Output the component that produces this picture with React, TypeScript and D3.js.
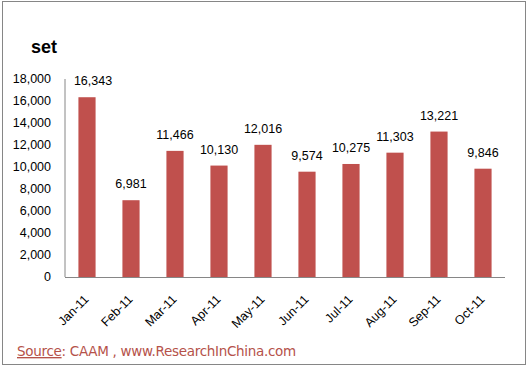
import React from 'react';
import * as d3 from 'd3';

const months = ['Jan-11', 'Feb-11', 'Mar-11', 'Apr-11', 'May-11', 'Jun-11', 'Jul-11', 'Aug-11', 'Sep-11', 'Oct-11'];
const sales = [16343, 6981, 11466, 10130, 12016, 9574, 10275, 11303, 13221, 9846];
const yTicks = [0, 2000, 4000, 6000, 8000, 10000, 12000, 14000, 16000, 18000];

const W = 529;
const H = 368;
const left = 65;
const right = 505;
const top = 79;
const bottom = 277;

export default function App() {
  const x = d3.scaleBand<string>().domain(months).range([left, right]).paddingInner(0.61).paddingOuter(0.305);
  const y = d3.scaleLinear().domain([0, 18000]).range([bottom, top]);
  const fmt = d3.format(',');

  return (
    <svg width={W} height={H} style={{ position: 'absolute', left: 0, top: 0 }} fontFamily="Liberation Sans, Arial, sans-serif">
      <rect x={2.5} y={1.5} width={523} height={363} fill="#fff" stroke="#868686" />
      <text x={31} y={53} fontSize={18} fontWeight="bold" fill="#000">set</text>

      {yTicks.map(t => (
        <text key={t} x={51} y={y(t)} dy="0.35em" textAnchor="end" fontSize={12.5} fill="#000">{fmt(t)}</text>
      ))}

      {months.map((m, i) => {
        const cx = x(m)! + x.bandwidth() / 2;
        // excel nudges the label away from the axis when it would overlap
        const lx = Math.max(cx, left + 28);
        return (
          <g key={m}>
            <rect x={x(m)} y={y(sales[i])} width={x.bandwidth()} height={bottom - y(sales[i])} fill="#C0504D" />
            <text x={lx} y={y(sales[i]) - 12} textAnchor="middle" fontSize={12.5} fill="#000">{fmt(sales[i])}</text>
            <text
              transform={`translate(${cx + 2.5},${bottom + 23}) rotate(-45)`}
              textAnchor="end"
              fontSize={12.5}
              fill="#000"
            >{m}</text>
          </g>
        );
      })}

      <line x1={left} x2={left} y1={top} y2={bottom} stroke="#868686" />
      <line x1={left} x2={right} y1={bottom + 0.5} y2={bottom + 0.5} stroke="#868686" />

      <text x={17} y={356} fontSize={13.5} fill="#B5524A" fontFamily="DejaVu Sans, sans-serif" letterSpacing="-0.3">
        <tspan textDecoration="underline">Source</tspan>: CAAM , www.ResearchInChina.com
      </text>
    </svg>
  );
}
